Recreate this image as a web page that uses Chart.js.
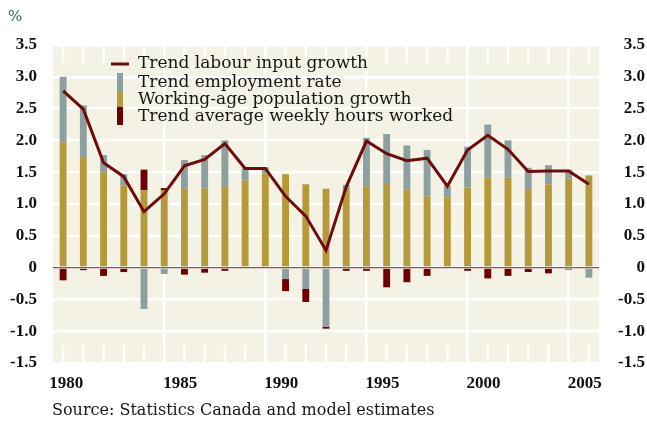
<!DOCTYPE html>
<html>
<head>
<meta charset="utf-8">
<title>Trend labour input growth</title>
<script src="https://cdn.jsdelivr.net/npm/chart.js@4.4.1/dist/chart.umd.min.js"></script>
<style>
  html, body { margin: 0; padding: 0; background: #fff; }
  #chart { display: block; }
</style>
</head>
<body>
<canvas id="chart" width="647" height="425"></canvas>
<script>
var years = ['1980','1981','1982','1983','1984','1985','1986','1987','1988','1989',
             '1990','1991','1992','1993','1994','1995','1996','1997','1998','1999',
             '2000','2001','2002','2003','2004','2005','2006'];
var xTickYears = ['1980','1985','1990','1995','2000','2005'];
var yTicks = [-1.5, -1.0, -0.5, 0, 0.5, 1.0, 1.5, 2.0, 2.5, 3.0, 3.5];

var popGrowth = [1.97, 1.74, 1.50, 1.29, 1.22, 1.22, 1.24, 1.24, 1.27, 1.37,
                 1.48, 1.47, 1.31, 1.24, 1.22, 1.28, 1.33, 1.23, 1.12, 1.10,
                 1.26, 1.42, 1.42, 1.22, 1.31, 1.40, 1.45];
var empRate = [1.03, 0.81, 0.27, 0.18, -0.65, -0.10, 0.45, 0.53, 0.73, 0.19,
               0.10, -0.18, -0.33, -0.93, 0.08, 0.76, 0.77, 0.69, 0.73, 0.19,
               0.64, 0.83, 0.58, 0.35, 0.30, 0.14, -0.16];
var hoursWorked = [-0.20, -0.04, -0.13, -0.07, 0.32, 0.03, -0.11, -0.08, -0.05, 0,
                   0, -0.19, -0.21, -0.03, -0.05, -0.05, -0.31, -0.23, -0.13, -0.02,
                   -0.05, -0.17, -0.13, -0.07, -0.09, -0.03, 0];
var labourInput = [2.78, 2.49, 1.65, 1.43, 0.88, 1.16, 1.60, 1.70, 1.95, 1.56,
                   1.56, 1.12, 0.81, 0.27, 1.27, 1.99, 1.79, 1.68, 1.72, 1.28,
                   1.85, 2.08, 1.86, 1.51, 1.52, 1.52, 1.31];

var cream = '#f4f1e5';
var gold = '#b49a3b';
var grey = '#8ca0a0';
var maroon = '#6e0202';
var lineColor = '#700b0b';
var tickFont = { family: '"Liberation Serif", serif', size: 17, weight: 'bold' };

/* fondo crema, marcas cortas, linea del cero, leyenda y textos */
var decor = {
  id: 'decor',
  beforeDraw: function(chart) {
    var a = chart.chartArea, c = chart.ctx;
    c.save();
    c.fillStyle = cream;
    c.fillRect(a.left, a.top, a.right - a.left, a.bottom - a.top);
    c.restore();
  },
  beforeDatasetsDraw: function(chart) {
    var a = chart.chartArea, c = chart.ctx, xs = chart.scales.x;
    c.save();
    c.strokeStyle = '#ffffff';
    c.lineWidth = 2.5;
    for (var i = 0; i < xs.ticks.length; i++) {
      var x = xs.getPixelForTick(i);
      c.beginPath();
      c.moveTo(x, a.top); c.lineTo(x, a.top + 18);
      c.moveTo(x, a.bottom - 18); c.lineTo(x, a.bottom);
      c.stroke();
    }
    c.restore();
  },
  afterDatasetsDraw: function(chart) {
    var a = chart.chartArea, c = chart.ctx;
    var y0 = chart.scales.y.getPixelForValue(0);
    c.save();
    c.strokeStyle = 'rgba(112,20,20,0.75)';
    c.lineWidth = 1.3;
    c.beginPath();
    c.moveTo(a.left, y0); c.lineTo(a.right, y0);
    c.stroke();
    c.restore();
  },
  afterDraw: function(chart) {
    var a = chart.chartArea, c = chart.ctx, ds = chart.data.datasets;
    var L = a.left, T = a.top;
    c.save();
    // leyenda
    c.strokeStyle = lineColor;
    c.lineWidth = 3;
    c.beginPath();
    c.moveTo(L + 58, T + 19); c.lineTo(L + 76, T + 19);
    c.stroke();
    c.fillStyle = grey;   c.fillRect(L + 64, T + 28, 6, 18);
    c.fillStyle = gold;   c.fillRect(L + 64, T + 46, 6, 16);
    c.fillStyle = maroon; c.fillRect(L + 64, T + 62, 6, 18);
    c.font = '17px "DejaVu Serif", serif';
    c.fillStyle = '#161616';
    c.textBaseline = 'alphabetic';
    c.textAlign = 'left';
    c.fillText(ds[0].label, L + 85, T + 23);
    c.fillText(ds[2].label, L + 85, T + 41.5);
    c.fillText(ds[1].label, L + 85, T + 59);
    c.fillText(ds[3].label, L + 85, T + 76);
    // unidad y fuente
    c.font = '15px "DejaVu Serif", serif';
    c.fillStyle = '#2d5f58';
    c.fillText('%', 8, 21);
    c.font = '16px "DejaVu Serif", serif';
    c.fillStyle = '#161616';
    c.fillText('Source: Statistics Canada and model estimates', 52, 415);
    c.restore();
  }
};

function yLabel(v) {
  return v === 0 ? '0' : v.toFixed(1);
}

var ctx = document.getElementById('chart').getContext('2d');
var chart = new Chart(ctx, {
  data: {
    labels: years,
    datasets: [
      { type: 'line', label: 'Trend labour input growth', data: labourInput,
        borderColor: lineColor, borderWidth: 3, pointRadius: 0, tension: 0,
        stack: 'line', order: 0 },
      { type: 'bar', label: 'Working-age population growth', data: popGrowth,
        backgroundColor: gold, stack: 'bars', order: 1,
        categoryPercentage: 1, barPercentage: 0.34 },
      { type: 'bar', label: 'Trend employment rate', data: empRate,
        backgroundColor: grey, stack: 'bars', order: 1,
        categoryPercentage: 1, barPercentage: 0.34 },
      { type: 'bar', label: 'Trend average weekly hours worked', data: hoursWorked,
        backgroundColor: maroon, stack: 'bars', order: 1,
        categoryPercentage: 1, barPercentage: 0.34 }
    ]
  },
  options: {
    responsive: false,
    animation: false,
    devicePixelRatio: 1,
    layout: { padding: { top: 45, right: 2, left: 0, bottom: 0 } },
    plugins: { legend: { display: false }, tooltip: { enabled: false } },
    scales: {
      x: {
        stacked: true,
        offset: true,
        border: { display: false },
        grid: {
          offset: false,
          drawTicks: false,
          lineWidth: 2.5,
          color: function(c) { return (c.index > 0 && c.index % 5 === 0) ? '#ffffff' : 'rgba(0,0,0,0)'; }
        },
        ticks: {
          autoSkip: false,
          maxRotation: 0,
          padding: 10,
          labelOffset: 16,
          color: '#111',
          font: tickFont,
          callback: function(val, i) {
            var lab = this.getLabelForValue(val);
            if (xTickYears.indexOf(lab) < 0) return '';
            // el primer año va pegado al borde izquierdo
            return i === 0 ? lab + '      ' : lab;
          }
        },
        afterFit: function(s) { s.height = 62; }
      },
      y: {
        stacked: true,
        min: -1.5, max: 3.5,
        border: { display: false },
        grid: { color: '#ffffff', lineWidth: 2.5, drawTicks: false },
        afterBuildTicks: function(s) { s.ticks = yTicks.map(function(v) { return { value: v }; }); },
        ticks: { autoSkip: false, padding: 16, color: '#111', font: tickFont, callback: yLabel },
        afterFit: function(s) { s.width = 53; }
      },
      y2: {
        position: 'right',
        min: -1.5, max: 3.5,
        border: { display: false },
        grid: { display: false, drawTicks: false },
        afterBuildTicks: function(s) { s.ticks = yTicks.map(function(v) { return { value: v }; }); },
        ticks: { autoSkip: false, crossAlign: 'far', color: '#111', font: tickFont, callback: yLabel },
        afterFit: function(s) { s.width = 46; }
      }
    }
  },
  plugins: [decor]
});
</script>
</body>
</html>
